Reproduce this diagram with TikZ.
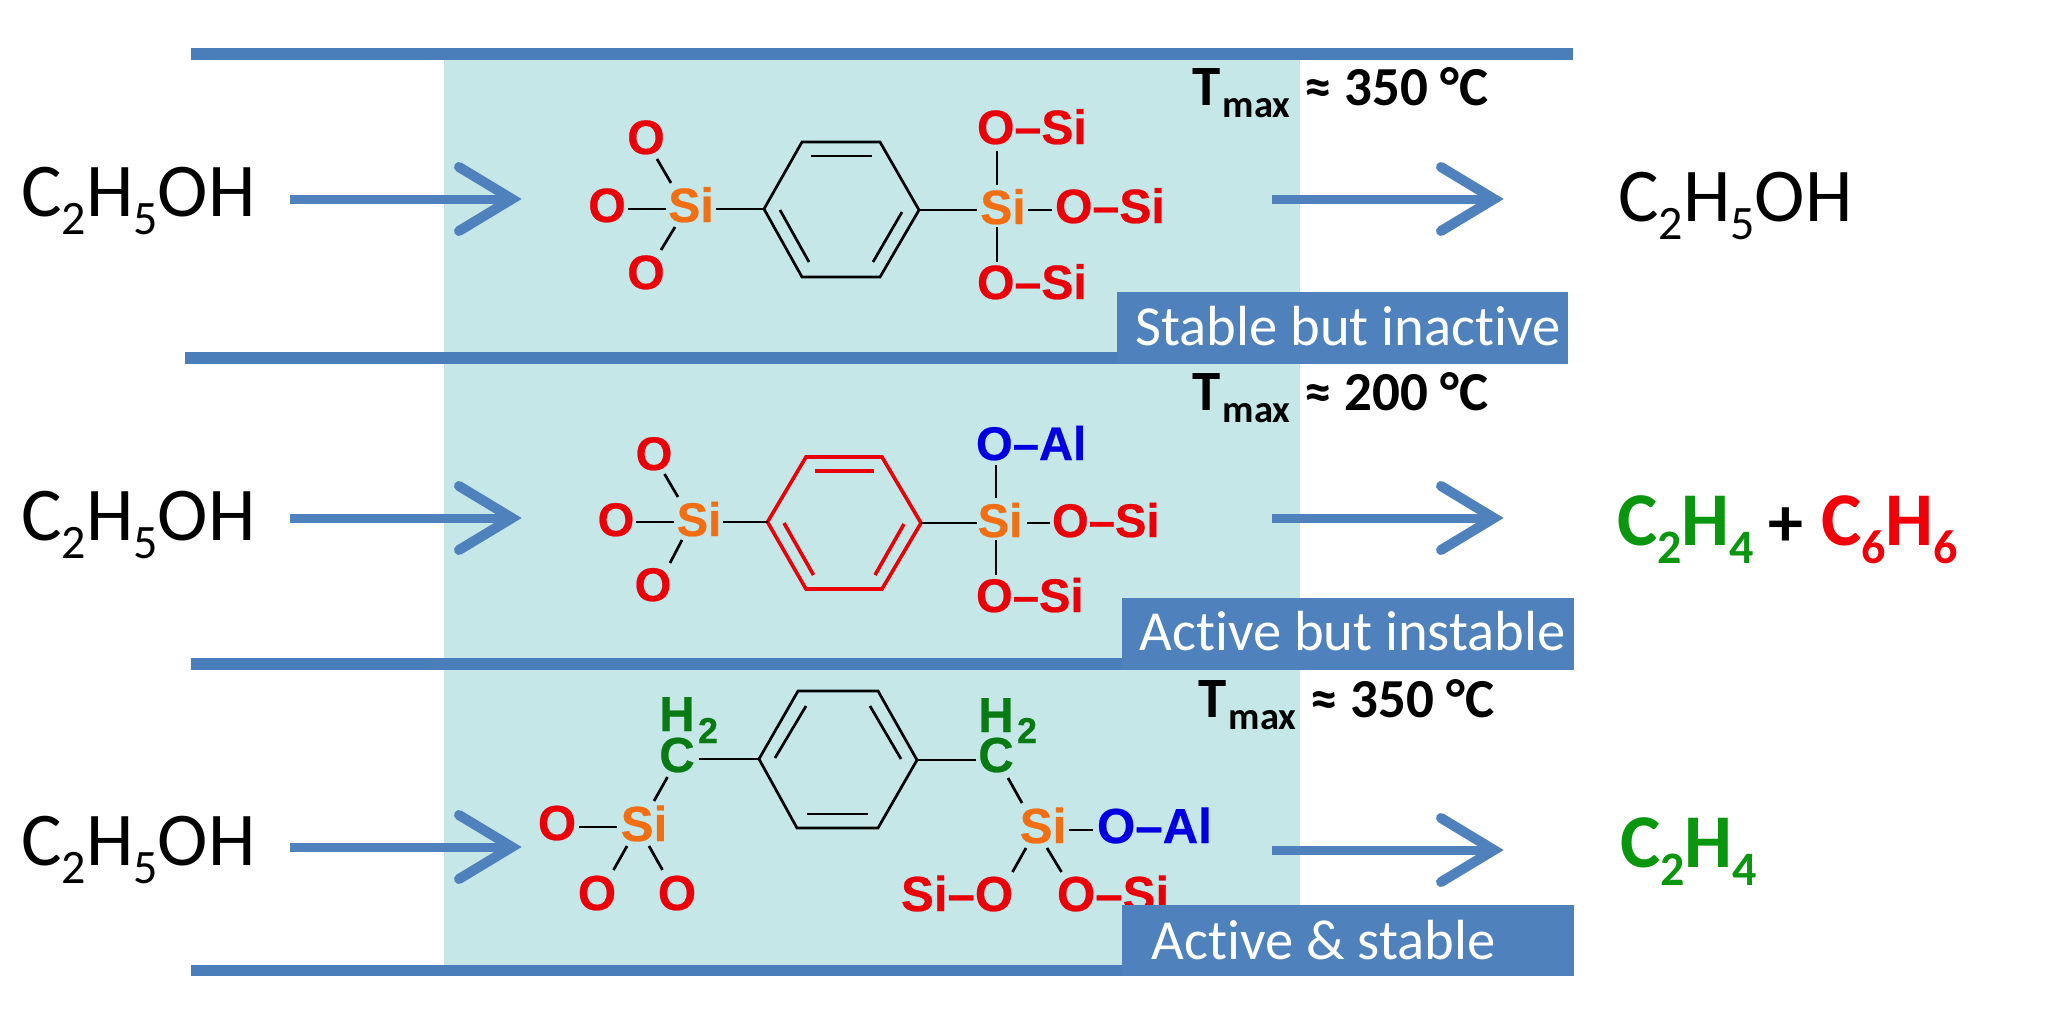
\documentclass[tikz,border=0pt]{standalone}
\usepackage{fontspec}
\setmainfont{Carlito}[Ligatures=NoCommon]
\newfontfamily\atomfont{Liberation Sans}[BoldFeatures={FakeBold=0.5}]
\definecolor{tealbg}{HTML}{C5E7E8}
\definecolor{barblue}{HTML}{4A7EBB}
\definecolor{boxblue}{HTML}{4F81BD}
\definecolor{atomred}{HTML}{EA0008}
\definecolor{atomorange}{HTML}{F26E12}
\definecolor{atomblue}{HTML}{0000E0}
\definecolor{atomgreen}{HTML}{0A7A14}
\definecolor{prodgreen}{HTML}{0A960F}
\definecolor{prodred}{HTML}{F00008}
\newcommand\lowsub[1]{\raisebox{-9pt}{\fontsize{24pt}{26pt}\selectfont #1}}
\newcommand\tmaxtext[1]{T\hspace{1pt}\raisebox{-6pt}{\fontsize{19.3pt}{22pt}\selectfont max}\hspace{7pt}{\fontsize{27.5pt}{30pt}\selectfont ≈ #1 °C}}
\newcommand\flowarrow[2]{%
  \draw[flowshaft] (#1) -- (#2);
  \draw[flowhead] ([shift={(-53,-32)}]#2) -- (#2) -- ([shift={(-53,32)}]#2);}
\tikzset{
  bar/.style={fill=barblue,draw=none},
  tagbox/.style={fill=boxblue,draw=none},
  flowshaft/.style={draw=boxblue,line width=4.5pt},
  flowhead/.style={draw=boxblue,line width=5pt,line cap=round,line join=miter,miter limit=10},
  bondline/.style={draw=black,line width=1.35pt},
  redring/.style={draw=atomred,line width=1.8pt},
  atom/.style={font=\atomfont\bfseries\fontsize{24.1pt}{25pt}\selectfont,inner sep=0pt,outer sep=0pt,text height=17pt,text depth=0pt},
  small atom/.style={font=\atomfont\bfseries\fontsize{23.6pt}{25pt}\selectfont,inner sep=0pt,outer sep=0pt,text height=17pt,text depth=0pt},
  big atom/.style={font=\atomfont\bfseries\fontsize{24.6pt}{25pt}\selectfont,inner sep=0pt,outer sep=0pt,text height=17pt,text depth=0pt},
  index/.style={font=\atomfont\bfseries\fontsize{18pt}{20pt}\selectfont,inner sep=0pt,outer sep=0pt,text height=13pt,text depth=0pt},
  formula/.style={font=\fontsize{38pt}{40pt}\selectfont,inner sep=0pt,anchor=base west},
  product/.style={font=\bfseries\fontsize{38pt}{40pt}\selectfont,inner sep=0pt,anchor=base west},
  tmax/.style={font=\bfseries\fontsize{28.5pt}{30pt}\selectfont,inner sep=0pt,anchor=base west},
  tagtext/.style={font=\fontsize{28.3pt}{30pt}\selectfont,text=white,inner sep=0pt,anchor=base west},
}
\begin{document}
\begin{tikzpicture}[x=0.5pt,y=-0.5pt]
\useasboundingbox (0,0) rectangle (2048,1035);
% background and channel walls
\fill[tealbg] (444,60) rectangle (1300,965);
\fill[bar] (191,48) rectangle (1573,60);
\fill[bar] (185,352) rectangle (1568,364);
\fill[bar] (191,658) rectangle (1573,670);
\fill[bar] (191,965) rectangle (1573,976);

% reactants and products
\node[formula] (in1) at (21,216) {C\lowsub{2}H\lowsub{5}OH};
\node[formula] (in2) at (21,540) {C\lowsub{2}H\lowsub{5}OH};
\node[formula] (in3) at (21,865) {C\lowsub{2}H\lowsub{5}OH};
\node[formula] (out1) at (1618,221) {C\lowsub{2}H\lowsub{5}OH};
\node[product,text=prodgreen] (out2a) at (1617,545) {C\lowsub{2}H\lowsub{4}};
\node[font=\bfseries\fontsize{35pt}{37pt}\selectfont,inner sep=0pt,anchor=base] (plus) at (1786,546) {+};
\node[product,text=prodred] (out2b) at (1821,545) {C\lowsub{6}H\lowsub{6}};
\node[product,text=prodgreen] (out3) at (1620,867) {C\lowsub{2}H\lowsub{4}};

% flow arrows
\coordinate (a1s) at (290,199);  \coordinate (a1e) at (512,199);
\coordinate (a2s) at (290,518);  \coordinate (a2e) at (512,518);
\coordinate (a3s) at (290,847);  \coordinate (a3e) at (512,847);
\coordinate (b1s) at (1272,199); \coordinate (b1e) at (1494,199);
\coordinate (b2s) at (1272,518); \coordinate (b2e) at (1494,518);
\coordinate (b3s) at (1272,850); \coordinate (b3e) at (1494,850);
\flowarrow{a1s}{a1e} \flowarrow{a2s}{a2e} \flowarrow{a3s}{a3e}
\flowarrow{b1s}{b1e} \flowarrow{b2s}{b2e} \flowarrow{b3s}{b3e}

% ---------- molecule 1
\node[atom,text=atomred] (m1oa) at (646,137) {O};
\node[atom,text=atomred] (m1ob) at (607,205) {O};
\node[atom,text=atomred] (m1oc) at (646,272) {O};
\node[atom,text=atomorange] (m1si) at (691,205) {Si};
\node[atom,text=atomorange] (m1sj) at (1003,207) {Si};
\node[atom,text=atomred,anchor=west] (m1ga) at (977,127) {O–Si};
\node[atom,text=atomred,anchor=west] (m1gb) at (1055,206) {O–Si};
\node[atom,text=atomred,anchor=west] (m1gc) at (977,282) {O–Si};
\coordinate (m1r1) at (764,209); \coordinate (m1r2) at (802,142); \coordinate (m1r3) at (880,142);
\coordinate (m1r4) at (919,210); \coordinate (m1r5) at (880,277); \coordinate (m1r6) at (802,277);
\coordinate (m1i1) at (811,156); \coordinate (m1i2) at (872,156);
\coordinate (m1i3) at (780,210); \coordinate (m1i4) at (809,262);
\coordinate (m1i5) at (902,212); \coordinate (m1i6) at (873,262);
\draw[bondline,line join=miter] (m1r1)--(m1r2)--(m1r3)--(m1r4)--(m1r5)--(m1r6)--cycle;
\draw[bondline] (m1i1)--(m1i2);
\draw[bondline] (m1i3)--(m1i4);
\draw[bondline] (m1i5)--(m1i6);
\draw[bondline] ([shift={(11,22)}]m1oa.center) -- ([shift={(-20,-22)}]m1si.center);
\draw[bondline] ([shift={(21,4)}]m1ob.center) -- ([shift={(-25,4)}]m1si.center);
\draw[bondline] ([shift={(15,-22)}]m1oc.center) -- ([shift={(-16,22)}]m1si.center);
\draw[bondline] ([shift={(25,4)}]m1si.center) -- (m1r1);
\draw[bondline] (m1r4) -- ([shift={(-26,3)}]m1sj.center);
\draw[bondline] ([shift={(-6,-22)}]m1sj.center) -- ([shift={(20,24)}]m1ga.west);
\draw[bondline] ([shift={(-6,20)}]m1sj.center) -- ([shift={(20,-20)}]m1gc.west);
\draw[bondline] ([shift={(25,3)}]m1sj.center) -- ([shift={(-3,4)}]m1gb.west);

% ---------- molecule 2
\node[small atom,text=atomred] (m2oa) at (654,453) {O};
\node[small atom,text=atomred] (m2ob) at (616,519) {O};
\node[small atom,text=atomred] (m2oc) at (653,584) {O};
\node[small atom,text=atomorange] (m2si) at (699,519) {Si};
\node[small atom,text=atomorange] (m2sj) at (1000,520) {Si};
\node[small atom,text=atomblue,anchor=west] (m2ga) at (976,443) {O–Al};
\node[small atom,text=atomred,anchor=west] (m2gb) at (1052,520) {O–Si};
\node[small atom,text=atomred,anchor=west] (m2gc) at (976,595) {O–Si};
\coordinate (m2r1) at (767.5,522); \coordinate (m2r2) at (806,457); \coordinate (m2r3) at (882,457);
\coordinate (m2r4) at (921,523); \coordinate (m2r5) at (882,589); \coordinate (m2r6) at (806,589);
\coordinate (m2i1) at (815,471); \coordinate (m2i2) at (874,471);
\coordinate (m2i3) at (784,523); \coordinate (m2i4) at (813.5,575);
\coordinate (m2i5) at (904,524); \coordinate (m2i6) at (875,575);
\draw[redring,line join=miter] (m2r1)--(m2r2)--(m2r3)--(m2r4)--(m2r5)--(m2r6)--cycle;
\draw[redring] (m2i1)--(m2i2);
\draw[redring] (m2i3)--(m2i4);
\draw[redring] (m2i5)--(m2i6);
\draw[bondline] ([shift={(10.5,21)}]m2oa.center) -- ([shift={(-21,-22)}]m2si.center);
\draw[bondline] ([shift={(20,3)}]m2ob.center) -- ([shift={(-25,3)}]m2si.center);
\draw[bondline] ([shift={(17,-21)}]m2oc.center) -- ([shift={(-17,21)}]m2si.center);
\draw[bondline] ([shift={(24,3)}]m2si.center) -- (m2r1);
\draw[bondline] (m2r4) -- ([shift={(-23,3)}]m2sj.center);
\draw[bondline] ([shift={(-4,-22)}]m2sj.center) -- ([shift={(20,22)}]m2ga.west);
\draw[bondline] ([shift={(-4,20)}]m2sj.center) -- ([shift={(20,-20)}]m2gc.west);
\draw[bondline] ([shift={(27,3)}]m2sj.center) -- ([shift={(-2,3)}]m2gb.west);

% ---------- molecule 3
\node[big atom,text=atomgreen] (m3ha) at (677,714) {H};
\node[index,text=atomgreen,anchor=west] (m3ia) at (698,730) {2};
\node[big atom,text=atomgreen] (m3ca) at (677,755) {C};
\node[big atom,text=atomred] (m3oa) at (557,823) {O};
\node[big atom,text=atomred] (m3ob) at (597,893) {O};
\node[big atom,text=atomred] (m3oc) at (677,893) {O};
\node[big atom,text=atomorange] (m3si) at (644,824) {Si};
\node[big atom,text=atomgreen] (m3hb) at (996,715) {H};
\node[index,text=atomgreen,anchor=west] (m3ib) at (1017,730) {2};
\node[big atom,text=atomgreen] (m3cb) at (996,755) {C};
\node[big atom,text=atomorange] (m3sj) at (1043,826) {Si};
\node[big atom,text=atomblue,anchor=west] (m3ga) at (1097,826) {O–Al};
\node[big atom,text=atomred,anchor=west] (m3gb) at (901,894) {Si–O};
\node[big atom,text=atomred,anchor=west] (m3gc) at (1057,894) {O–Si};
\coordinate (m3r1) at (759,759); \coordinate (m3r2) at (798,691); \coordinate (m3r3) at (878,691);
\coordinate (m3r4) at (917,760); \coordinate (m3r5) at (878,828); \coordinate (m3r6) at (797,828);
\coordinate (m3i1) at (806,706); \coordinate (m3i2) at (775,758);
\coordinate (m3i3) at (870,706); \coordinate (m3i4) at (901,759);
\coordinate (m3i5) at (807,814); \coordinate (m3i6) at (867.5,814);
\draw[bondline,line join=miter] (m3r1)--(m3r2)--(m3r3)--(m3r4)--(m3r5)--(m3r6)--cycle;
\draw[bondline] (m3i1)--(m3i2);
\draw[bondline] (m3i3)--(m3i4);
\draw[bondline] (m3i5)--(m3i6);
\draw[bondline] ([shift={(-9.5,22)}]m3ca.center) -- ([shift={(10,-23)}]m3si.center);
\draw[bondline] ([shift={(22,4)}]m3oa.center) -- ([shift={(-27,3)}]m3si.center);
\draw[bondline] ([shift={(16.5,-23)}]m3ob.center) -- ([shift={(-17,22)}]m3si.center);
\draw[bondline] ([shift={(-14.5,-23)}]m3oc.center) -- ([shift={(5,22)}]m3si.center);
\draw[bondline] ([shift={(22,4)}]m3ca.center) -- (m3r1);
\draw[bondline] (m3r4) -- ([shift={(-20,5)}]m3cb.center);
\draw[bondline] ([shift={(12,23)}]m3cb.center) -- ([shift={(-21,-23)}]m3sj.center);
\draw[bondline] ([shift={(26,4)}]m3sj.center) -- ([shift={(-4,4)}]m3ga.west);
\draw[bondline] ([shift={(-17,22)}]m3sj.center) -- ([shift={(111.5,-22)}]m3gb.west);
\draw[bondline] ([shift={(4,22)}]m3sj.center) -- ([shift={(4.5,-22)}]m3gc.west);

% ---------- state tags
\fill[tagbox] (1117,292) rectangle (1568,364);
\fill[tagbox] (1122,598) rectangle (1574,670);
\fill[tagbox] (1122,905) rectangle (1574,976);
\node[tagtext] (t1) at (1135,345) {Stable but inactive};
\node[tagtext] (t2) at (1139,650) {Active but instable};
\node[tagtext] (t3) at (1151,959) {Active \& stable};

% ---------- temperatures
\node[tmax] (th1) at (1192,105) {\tmaxtext{350}};
\node[tmax] (th2) at (1192,410) {\tmaxtext{200}};
\node[tmax] (th3) at (1198,717) {\tmaxtext{350}};
\end{tikzpicture}
\end{document}
